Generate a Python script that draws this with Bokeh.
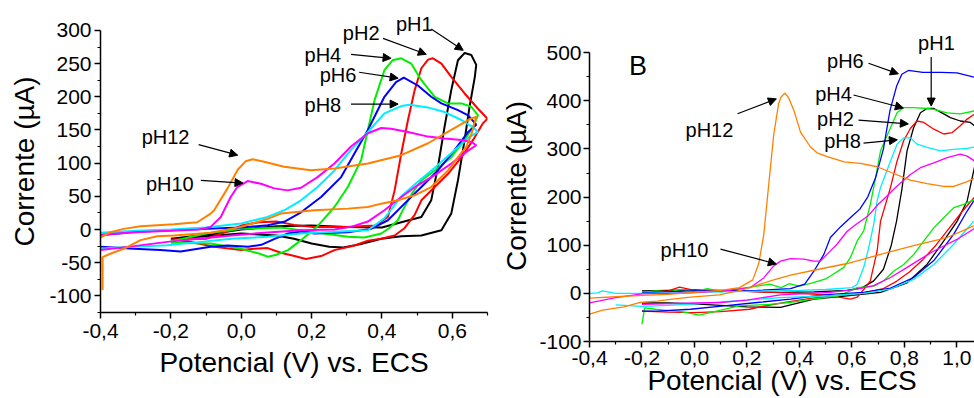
from bokeh.plotting import figure
from bokeh.models import Range1d, FixedTicker, Label, Arrow, NormalHead
from bokeh.layouts import row
from bokeh.embed import file_html
from bokeh.resources import INLINE

nan = float("nan")

# ---------------- data: panel A ----------------
A_PH1_V = [-0.20, -0.10, 0.00, 0.10, 0.20, 0.30, 0.40, 0.455, 0.512, 0.540, 0.559, 0.578, 0.597, 0.616, 0.635, 0.654, 0.668, 0.664, 0.649, 0.635, 0.616, 0.597, 0.569, 0.512, 0.455, 0.398, 0.340, 0.290, 0.250, 0.200, 0.150, 0.100, 0.000, -0.100, -0.200]
A_PH1_I = [-14, -8, 0, 5, 6, 4, 3, 11, 19, 44, 94, 155, 210, 255, 266, 263, 248, 230, 185, 135, 74, 24, -1, -9, -10, -14, -22, -27, -26, -21, -14, -9, -6, -10, -14]

A_PH2_V = [-0.20, -0.10, -0.05, 0.00, 0.05, 0.10, 0.15, 0.20, 0.30, 0.38, 0.417, 0.436, 0.455, 0.474, 0.493, 0.512, 0.531, 0.545, 0.569, 0.597, 0.635, 0.673, 0.700, 0.687, 0.659, 0.626, 0.588, 0.550, 0.512, 0.493, 0.464, 0.436, 0.398, 0.360, 0.322, 0.265, 0.227, 0.184, 0.151, 0.113, 0.075, 0.037, 0.000, -0.077, -0.150, -0.200]
A_PH2_I = [-15, -14, -5, 6, 11, 12, 7, 4, 4, 6, 19, 59, 115, 165, 210, 243, 256, 258, 250, 230, 205, 182, 167, 160, 135, 109, 84, 64, 44, 22, 2, -9, -14, -17, -24, -31, -40, -44.5, -40, -35, -28, -29, -31, -26, -18, -15]

A_PH4_V = [-0.20, -0.087, 0.000, 0.050, 0.076, 0.100, 0.133, 0.170, 0.217, 0.265, 0.303, 0.341, 0.360, 0.379, 0.407, 0.430, 0.455, 0.483, 0.512, 0.550, 0.588, 0.626, 0.654, 0.673, 0.659, 0.635, 0.597, 0.550, 0.512, 0.485, 0.460, 0.445, 0.420, 0.398, 0.350, 0.303, 0.208, 0.113, 0.000, -0.100, -0.200]
A_PH4_I = [-20, -21, -29, -36, -41, -38, -31, -16, 5, 34, 64, 105, 150, 195, 240, 255, 258, 250, 225, 200, 190, 190, 185, 172, 155, 135, 109, 89, 74, 54, 30, 14, 2, -6, -12, -11, -4, 3, 1, -6, -18]

A_PH6_V = [-0.40, -0.30, -0.20, -0.10, 0.000, 0.075, 0.122, 0.170, 0.227, 0.284, 0.327, 0.360, 0.407, 0.440, 0.462, 0.502, 0.540, 0.569, 0.616, 0.645, 0.668, 0.645, 0.607, 0.559, 0.512, 0.464, 0.417, 0.369, 0.303, 0.208, 0.171, 0.133, 0.095, 0.057, 0.020, -0.039, -0.087, -0.172, -0.230, -0.305, -0.400]
A_PH6_I = [-8.5, -3.5, -1, 1, 3, 6.5, 11.6, 26, 49, 79, 119.5, 150, 200, 222, 229, 217, 200, 190, 180, 172, 158, 147, 120, 89, 64, 39, 14, 1, -4, -6, -3, -6, -14, -23, -26, -24, -26, -33, -31, -29, -26]

A_PH8_V = [-0.40, -0.30, -0.20, -0.10, 0.000, 0.075, 0.122, 0.170, 0.217, 0.265, 0.312, 0.360, 0.407, 0.455, 0.478, 0.530, 0.578, 0.626, 0.659, 0.673, 0.645, 0.616, 0.550, 0.502, 0.455, 0.407, 0.360, 0.265, 0.170, 0.075, -0.020, -0.115, -0.210, -0.305, -0.400]
A_PH8_I = [-5, -2, 0, 3, 9, 19, 29, 44, 64, 89, 120, 147, 175, 186, 188, 184, 177, 165, 154, 147, 138, 124, 93, 72, 50, 17, -1, -3.5, -6, -11, -13.6, -18.6, -23.6, -26, -28.6]

A_PH10_V = [-0.40, -0.30, -0.20, -0.12, -0.087, -0.058, -0.030, -0.011, 0.018, 0.056, 0.094, 0.132, 0.170, 0.217, 0.265, 0.312, 0.360, 0.398, 0.426, 0.474, 0.531, 0.578, 0.626, 0.654, 0.668, 0.640, 0.597, 0.550, 0.502, 0.455, 0.407, 0.360, 0.312, 0.265, 0.170, 0.075, -0.020, -0.115, -0.210, -0.305, -0.400]
A_PH10_I = [-8, -4, -2, 0, 4, 19, 49, 64, 73, 69, 62, 59, 63, 79, 99.5, 125, 145, 153, 152, 147, 140, 137, 135, 132, 127, 117, 99.5, 82, 67, 49, 29, 12, 4, 0, -1, -4.5, -8.5, -13.6, -18.6, -25, -31]

A_PH12_V = [-0.394, -0.394, -0.372, -0.334, -0.286, -0.239, -0.191, -0.144, -0.087, 0.000, 0.075, 0.113, 0.208, 0.303, 0.360, 0.398, 0.445, 0.493, 0.540, 0.588, 0.616, 0.640, 0.655, 0.668, 0.645, 0.597, 0.531, 0.455, 0.360, 0.265, 0.198, 0.122, 0.065, 0.032, 0.013, -0.010, -0.039, -0.077, -0.087, -0.125, -0.191, -0.286, -0.334, -0.372, -0.400]
A_PH12_I = [-91, -41.5, -36.5, -29, -16, -10, -9, -7, -5, 4, 16, 24, 29, 31.5, 34, 39, 44, 51.6, 64, 89, 109, 125, 145, 170, 165, 150, 130, 112, 99.5, 92, 89.4, 94.5, 102, 106, 103, 90, 62, 29, 24, 11, 8, 5, 1, -4, -12]

# ---------------- data: panel B (nan = curve leaves the visible window) ----------------
B_PH1_V = [-0.20, -0.10, 0.00, 0.10, 0.20, 0.328, 0.455, 0.582, 0.640, 0.683, 0.720, 0.750, 0.770, 0.790, 0.810, 0.835, 0.861, 0.886, 0.912, 0.943, 0.975, 1.013, 1.051, 1.067, nan, 1.067, 1.039, 1.001, 0.950, 0.886, 0.810, 0.709, 0.582, 0.455, 0.328, 0.200, 0.100, 0.000, -0.100, -0.200]
B_PH1_I = [5, 6, 7, 6, 4, 2, 3, 6, 12, 26, 50, 100, 150, 215, 296, 344, 375, 384, 384, 375, 365, 358, 355, 348, nan, 262, 192, 150, 109, 60, 22, 2, -5, -12, -29, -28, -25, -22, -20, -20]

B_PH2_V = [-0.20, -0.10, -0.057, 0.00, 0.10, 0.20, 0.30, 0.40, 0.50, 0.55, 0.594, 0.620, 0.645, 0.670, 0.696, 0.709, 0.747, 0.772, 0.797, 0.823, 0.848, 0.874, 0.912, 0.950, 0.982, 1.013, 1.039, 1.067, nan, 1.067, 1.020, 0.970, 0.920, 0.870, 0.820, 0.770, 0.720, 0.650, 0.550, 0.450, 0.350, 0.250, 0.210, 0.100, 0.000, -0.100, -0.200]
B_PH2_I = [3, 5, 13, 6, 5, 4, 2, 0, -3, -8, -12, -8, 8, 26, 88, 150, 220, 275, 317, 343, 358, 355, 341, 331, 334, 348, 362, 372, nan, 200, 170, 135, 100, 70, 45, 25, 10, 2, -4, -10, -18, -28, -33, -38, -40, -39, -37]

B_PH4_V = [-0.200, -0.190, -0.150, -0.100, -0.050, 0.019, 0.060, 0.100, 0.171, 0.286, 0.362, 0.450, 0.550, 0.594, 0.620, 0.683, 0.721, 0.759, 0.797, 0.836, 0.874, 0.912, 0.950, 0.988, 1.026, 1.067, nan, 1.067, 1.013, 0.963, 0.912, 0.886, 0.835, 0.797, 0.772, 0.747, 0.709, 0.690, 0.670, 0.645, 0.620, 0.594, 0.569, 0.518, 0.500, 0.450, 0.400, 0.360, 0.330, 0.286, 0.200, 0.150, 0.100, 0.050, 0.000, -0.050, -0.100, -0.146, -0.200]
B_PH4_I = [-64, -30, -33, -36, -38, -45, -40, -35, -26, -23, -19, -12, -5, 5, 12, 15, 26, 46, 60, 81, 109, 136, 157, 178, 185, 195, nan, 379, 373, 375, 382, 384, 386, 386, 375, 344, 296, 240, 185, 130, 109, 74, 54, 36, 30, 22, 15, 20, 12, 19, 12, 8, 3, 10, 4, 8, 3, 5, 2]

B_PH6_V = [-0.200, -0.142, -0.015, 0.112, 0.239, 0.366, 0.450, 0.518, 0.645, 0.747, 0.835, 0.912, 0.988, 1.039, 1.064, nan, 1.067, 1.000, 0.940, 0.870, 0.815, 0.790, 0.770, 0.745, 0.720, 0.690, 0.660, 0.630, 0.600, 0.556, 0.518, 0.493, 0.455, 0.420, 0.366, 0.239, 0.100, -0.015, -0.200]
B_PH6_I = [-37, -37, -33, -26, -19, -12, -6, -2, 2, 11, 33, 68, 123, 171, 192, nan, 449, 458, 459, 459, 463, 455, 430, 380, 300, 240, 200, 175, 160, 138, 116, 81, 46, 19, 10, 6, 5, 5, 1]

B_PH8_V = [-0.300, -0.200, -0.100, 0.000, 0.100, 0.200, 0.328, 0.518, 0.645, 0.747, 0.835, 0.912, 0.988, 1.064, nan, 1.067, 1.039, 0.988, 0.937, 0.886, 0.848, 0.823, 0.797, 0.772, 0.747, 0.709, 0.696, 0.683, 0.664, 0.645, 0.620, 0.600, 0.500, 0.400, 0.200, 0.000, -0.200, -0.300, -0.350, -0.370, -0.400]
B_PH8_I = [-24, -27, -25, -22, -18, -14, -9, -5, 0, 9, 29, 60, 102, 150, nan, 304, 301, 299, 296, 303, 310, 323, 323, 310, 275, 220, 192, 144, 95, 54, 19, 12, 8, 6, 4, 2, 0, 0, 5, 1, 0]

B_PH10_V = [-0.200, 0.000, 0.100, 0.200, 0.328, 0.518, 0.620, 0.683, 0.747, 0.810, 0.861, 0.912, 0.963, 1.000, 1.067, nan, 1.067, 1.039, 1.013, 0.963, 0.912, 0.861, 0.823, 0.770, 0.720, 0.700, 0.660, 0.620, 0.582, 0.543, 0.505, 0.480, 0.455, 0.417, 0.366, 0.328, 0.302, 0.264, 0.213, 0.112, -0.015, -0.200, -0.300, -0.400]
B_PH10_I = [-23, -20, -19, -14, -3, 2, 9, 16, 33, 54, 71, 88, 102, 112, 135, nan, 275, 285, 289, 282, 271, 261, 247, 222, 195, 185, 160, 145, 129, 102, 81, 67, 67, 71, 72, 67, 57, 32, 12, 5, 1, -1, -9, -20]

B_PH12_V = [-0.400, -0.350, -0.269, -0.210, -0.142, -0.083, -0.015, 0.095, 0.175, 0.239, 0.302, 0.366, 0.455, 0.582, 0.709, 0.835, 0.963, 1.064, nan, 1.067, 1.039, 0.988, 0.950, 0.886, 0.823, 0.759, 0.696, 0.632, 0.570, 0.506, 0.467, 0.442, 0.404, 0.379, 0.359, 0.345, 0.330, 0.321, 0.302, 0.283, 0.264, 0.245, 0.222, 0.171, 0.100, 0.000, -0.100, -0.200, -0.300, -0.400]
B_PH12_I = [-43, -35, -28, -19, -16, -12, -8, -3, 6, 17, 28, 38, 48, 62, 81, 99, 116, 140, nan, 239, 232, 222, 222, 228, 235, 249, 263, 270, 273, 284, 292, 304, 335, 380, 406, 416, 408, 395, 330, 226, 122, 62, 28, 12, 6, 2, -2, -4, -7, -10]

SERIES = ["pH1", "pH2", "pH4", "pH6", "pH8", "pH10", "pH12"]
COLORS = ["#000000", "#ff0000", "#00ee00", "#0000ff", "#00eeff", "#ff00ff", "#ff8000"]

A_CURVES = [(A_PH1_V, A_PH1_I), (A_PH2_V, A_PH2_I), (A_PH4_V, A_PH4_I), (A_PH6_V, A_PH6_I),
            (A_PH8_V, A_PH8_I), (A_PH10_V, A_PH10_I), (A_PH12_V, A_PH12_I)]
B_CURVES = [(B_PH1_V, B_PH1_I), (B_PH2_V, B_PH2_I), (B_PH4_V, B_PH4_I), (B_PH6_V, B_PH6_I),
            (B_PH8_V, B_PH8_I), (B_PH10_V, B_PH10_I), (B_PH12_V, B_PH12_I)]

# ticks
A_X_TICKS = [-0.4, -0.2, 0.0, 0.2, 0.4, 0.6]
A_X_MINOR = [-0.3, -0.1, 0.1, 0.3, 0.5, 0.7]
A_X_LABELS = ["-0,4", "-0,2", "0,0", "0,2", "0,4", "0,6"]
A_Y_TICKS = [-100, -50, 0, 50, 100, 150, 200, 250, 300]
A_Y_MINOR = [-125, -75, -25, 25, 75, 125, 175, 225, 275]
A_Y_LABELS = ["-100", "-50", "0", "50", "100", "150", "200", "250", "300"]

B_X_TICKS = [-0.4, -0.2, 0.0, 0.2, 0.4, 0.6, 0.8, 1.0]
B_X_MINOR = [-0.3, -0.1, 0.1, 0.3, 0.5, 0.7, 0.9]
B_X_LABELS = ["-0,4", "-0,2", "0,0", "0,2", "0,4", "0,6", "0,8", "1,0"]
B_Y_TICKS = [-100, 0, 100, 200, 300, 400, 500]
B_Y_MINOR = [-50, 50, 150, 250, 350, 450]
B_Y_LABELS = ["-100", "0", "100", "200", "300", "400", "500"]

# annotations: (text, x, y) and arrows (x0, y0, x1, y1)
A_LABELS = [("pH1", 0.492, 309), ("pH2", 0.341, 296), ("pH4", 0.232, 263), ("pH6", 0.275, 233),
            ("pH8", 0.232, 187), ("pH12", -0.215, 140), ("pH10", -0.203, 69)]
A_ARROWS = [(0.540, 302, 0.631, 270), (0.403, 288, 0.526, 264), (0.312, 264, 0.426, 258),
            (0.335, 237, 0.446, 228), (0.312, 189, 0.446, 189), (-0.121, 128, -0.010, 112),
            (-0.115, 74, 0.005, 70)]
B_LABELS = [("pH1", 0.922, 519), ("pH6", 0.575, 483), ("pH4", 0.530, 415), ("pH2", 0.537, 363),
            ("pH8", 0.564, 316), ("pH12", 0.057, 340), ("pH10", -0.038, 91)]
B_ARROWS = [(0.902, 491, 0.902, 389), (0.663, 478, 0.777, 456), (0.606, 412, 0.796, 385),
            (0.625, 360, 0.815, 352), (0.644, 312, 0.773, 319), (0.164, 373, 0.312, 404),
            (0.099, 92, 0.312, 61)]

FONT = "Liberation Sans"


def style(p, xt, xm, xl, yt, ym, yl, ybounds):
    p.outline_line_color = None
    p.xgrid.visible = False
    p.ygrid.visible = False
    p.background_fill_color = "white"
    p.border_fill_color = "white"
    p.xaxis.ticker = FixedTicker(ticks=xt, minor_ticks=xm)
    p.xaxis.major_label_overrides = dict(zip(xt, xl))
    p.yaxis.ticker = FixedTicker(ticks=yt, minor_ticks=ym)
    p.yaxis.major_label_overrides = dict(zip(yt, yl))
    p.yaxis.bounds = ybounds
    for ax in (p.xaxis[0], p.yaxis[0]):
        ax.axis_line_width = 1.5
        ax.major_tick_line_width = 1.5
        ax.minor_tick_line_width = 1.2
        ax.major_tick_out = 6
        ax.major_tick_in = 0
        ax.minor_tick_out = 3
        ax.minor_tick_in = 0
        ax.major_label_text_font = FONT
        ax.major_label_text_font_size = "21px"
        ax.major_label_text_color = "black"
        ax.axis_label_text_font = FONT
        ax.axis_label_text_font_size = "28px"
        ax.axis_label_text_font_style = "normal"
        ax.axis_label_text_color = "black"
    p.xaxis.axis_label = "Potencial (V) vs. ECS"
    p.yaxis.axis_label = "Corrente (\u00b5A)"


def annotate(p, labels, arrows):
    for (t, x, y) in labels:
        p.add_layout(Label(x=x, y=y, text=t, text_align="center", text_baseline="middle",
                           text_font=FONT, text_font_size="20px", text_color="black"))
    for (x0, y0, x1, y1) in arrows:
        p.add_layout(Arrow(end=NormalHead(size=8, line_color="black", fill_color="black", line_width=1),
                           x_start=x0, y_start=y0, x_end=x1, y_end=y1,
                           line_color="black", line_width=1.2))


pA = figure(width=490, height=398, x_range=Range1d(-0.4, 0.70), y_range=Range1d(-125, 330),
            output_backend="svg", toolbar_location=None, frame_align=False,
            min_border_left=100, min_border_right=3, min_border_top=10, min_border_bottom=86)
style(pA, A_X_TICKS, A_X_MINOR, A_X_LABELS, A_Y_TICKS, A_Y_MINOR, A_Y_LABELS, (-125, 300))
pA.xaxis.major_label_standoff = 5
pA.xaxis.axis_label_standoff = 6
pA.yaxis.major_label_standoff = 3
pA.yaxis.axis_label_standoff = 6
for (v, i), c in zip(A_CURVES, COLORS):
    pA.line(v, i, line_color=c, line_width=2)
annotate(pA, A_LABELS, A_ARROWS)

pB = figure(width=484, height=398, x_range=Range1d(-0.4, 1.067), y_range=Range1d(-100, 546),
            output_backend="svg", toolbar_location=None, frame_align=False,
            min_border_left=99, min_border_right=0, min_border_top=30, min_border_bottom=57)
style(pB, B_X_TICKS, B_X_MINOR, B_X_LABELS, B_Y_TICKS, B_Y_MINOR, B_Y_LABELS, (-100, 500))
pB.xaxis.major_label_standoff = 3
pB.xaxis.axis_label_standoff = -3
pB.yaxis.major_label_standoff = 2
pB.yaxis.axis_label_standoff = 4
for (v, i), c in zip(B_CURVES, COLORS):
    pB.line(v, i, line_color=c, line_width=1.3)
annotate(pB, B_LABELS, B_ARROWS)
pB.add_layout(Label(x=-0.215, y=473, text="B", text_align="center", text_baseline="middle",
                    text_font=FONT, text_font_size="27px", text_color="black"))

layout = row(pA, pB)
open("out.html", "w").write(file_html(layout, INLINE))
